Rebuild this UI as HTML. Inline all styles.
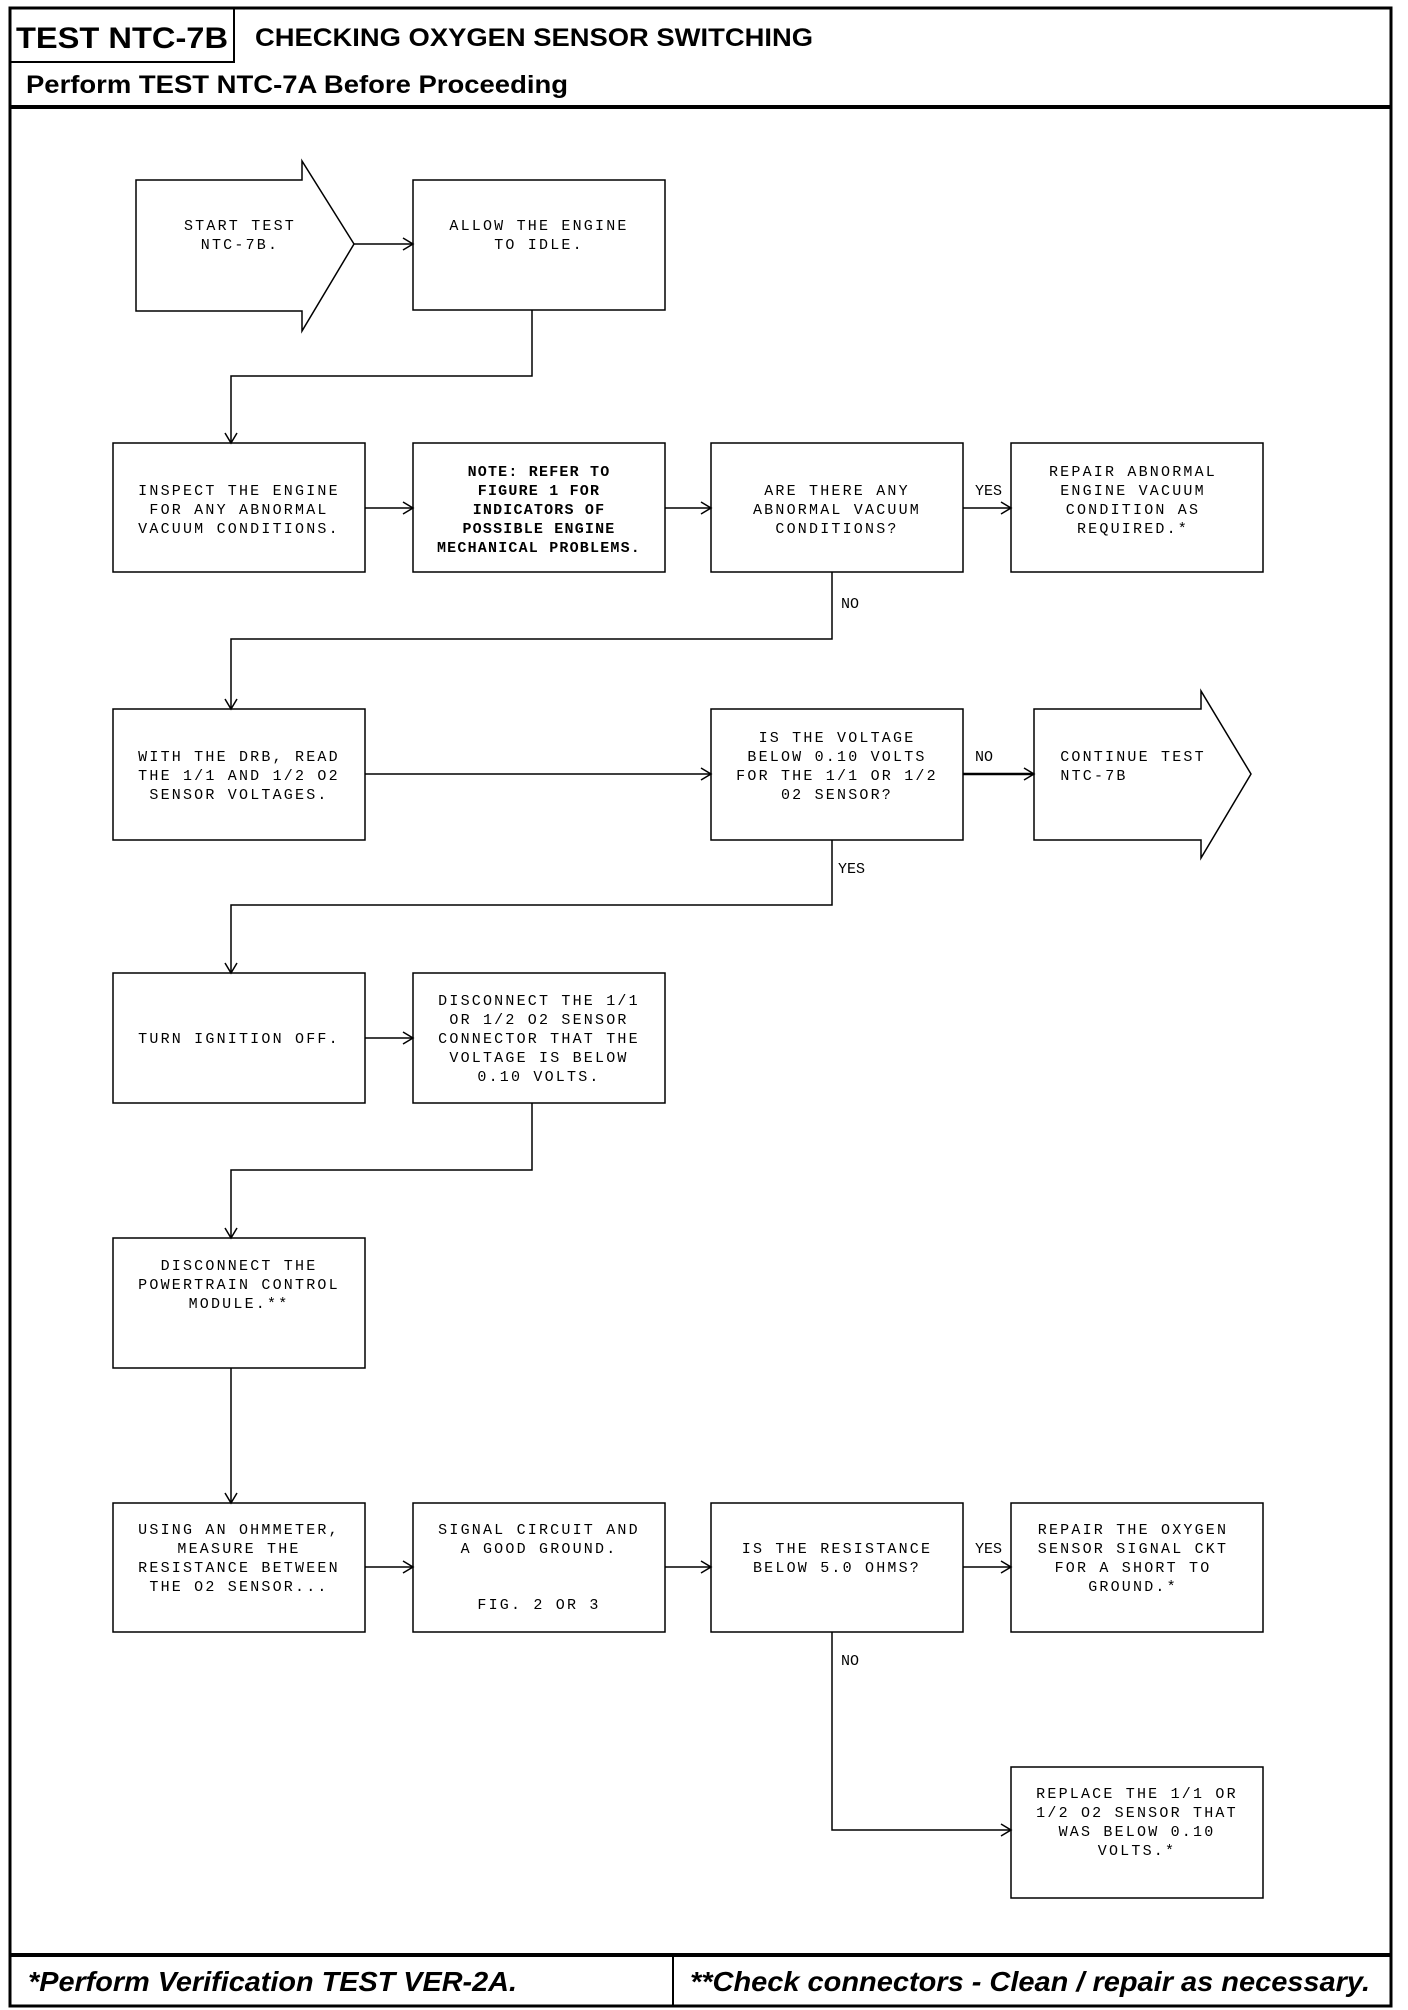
<!DOCTYPE html>
<html><head><meta charset="utf-8"><style>
html,body{margin:0;padding:0;background:#fff;}
svg{display:block;}
.t{font-family:"Liberation Mono",monospace;font-size:15px;letter-spacing:2.2px;fill:#000;text-anchor:middle;}
.b{font-weight:bold;}
.l{font-family:"Liberation Mono",monospace;font-size:15px;fill:#000;}
</style></head><body>
<svg width="1408" height="2010" viewBox="0 0 1408 2010" xmlns="http://www.w3.org/2000/svg">
<g fill="none" stroke="#000">
<!-- outer border -->
<rect x="10" y="8" width="1381" height="1998" stroke-width="3"/>
<rect x="10" y="8" width="224" height="54" stroke-width="2"/>
<line x1="10" y1="107" x2="1391" y2="107" stroke-width="4"/>
<line x1="10" y1="1955" x2="1391" y2="1955" stroke-width="4"/>
<line x1="673" y1="1955" x2="673" y2="2006" stroke-width="2"/>

<g stroke-width="1.5">
<!-- start arrow -->
<polygon points="136,180 302,180 302,161 354,244 302,331 302,311 136,311"/>
<rect x="413" y="180" width="252" height="130"/>
<!-- row2 -->
<rect x="113" y="443" width="252" height="129"/>
<rect x="413" y="443" width="252" height="129"/>
<rect x="711" y="443" width="252" height="129"/>
<rect x="1011" y="443" width="252" height="129"/>
<!-- row3 -->
<rect x="113" y="709" width="252" height="131"/>
<rect x="711" y="709" width="252" height="131"/>
<polygon points="1034,709 1201,709 1201,691 1251,774 1201,858 1201,840 1034,840"/>
<!-- row4 -->
<rect x="113" y="973" width="252" height="130"/>
<rect x="413" y="973" width="252" height="130"/>
<!-- row5 -->
<rect x="113" y="1238" width="252" height="130"/>
<!-- row6 -->
<rect x="113" y="1503" width="252" height="129"/>
<rect x="413" y="1503" width="252" height="129"/>
<rect x="711" y="1503" width="252" height="129"/>
<rect x="1011" y="1503" width="252" height="129"/>
<!-- row7 -->
<rect x="1011" y="1767" width="252" height="131"/>

<!-- connectors -->
<line x1="354" y1="244" x2="413" y2="244"/>
<polyline points="532,310 532,376 231,376 231,443"/>
<line x1="365" y1="508" x2="413" y2="508"/>
<line x1="665" y1="508" x2="711" y2="508"/>
<line x1="963" y1="508" x2="1011" y2="508"/>
<polyline points="832,572 832,639 231,639 231,709"/>
<line x1="365" y1="774" x2="711" y2="774"/>
<line x1="963" y1="774" x2="1034" y2="774" stroke-width="2.5"/>
<polyline points="832,840 832,905 231,905 231,973"/>
<line x1="365" y1="1038" x2="413" y2="1038"/>
<polyline points="532,1103 532,1170 231,1170 231,1238"/>
<line x1="231" y1="1368" x2="231" y2="1503"/>
<line x1="365" y1="1567" x2="413" y2="1567"/>
<line x1="665" y1="1567" x2="711" y2="1567"/>
<line x1="963" y1="1567" x2="1011" y2="1567"/>
<polyline points="832,1632 832,1830 1011,1830"/>

<!-- arrowheads -->
<polyline points="403,238 413,244 403,250"/>
<polyline points="225,433 231,443 237,433"/>
<polyline points="403,502 413,508 403,514"/>
<polyline points="701,502 711,508 701,514"/>
<polyline points="1001,502 1011,508 1001,514"/>
<polyline points="225,699 231,709 237,699"/>
<polyline points="701,768 711,774 701,780"/>
<polyline points="1024,768 1034,774 1024,780"/>
<polyline points="225,963 231,973 237,963"/>
<polyline points="403,1032 413,1038 403,1044"/>
<polyline points="225,1228 231,1238 237,1228"/>
<polyline points="225,1493 231,1503 237,1493"/>
<polyline points="403,1561 413,1567 403,1573"/>
<polyline points="701,1561 711,1567 701,1573"/>
<polyline points="1001,1561 1011,1567 1001,1573"/>
<polyline points="1001,1824 1011,1830 1001,1836"/>
</g>
</g>

<!-- header text -->
<text x="16" y="48" font-family="'Liberation Sans',sans-serif" font-weight="bold" font-size="30" textLength="212" lengthAdjust="spacingAndGlyphs">TEST NTC-7B</text>
<text x="255" y="46" font-family="'Liberation Sans',sans-serif" font-weight="bold" font-size="25" textLength="558" lengthAdjust="spacingAndGlyphs">CHECKING OXYGEN SENSOR SWITCHING</text>
<text x="26" y="93" font-family="'Liberation Sans',sans-serif" font-weight="bold" font-size="25" textLength="542" lengthAdjust="spacingAndGlyphs">Perform TEST NTC-7A Before Proceeding</text>

<!-- footer -->
<text x="28" y="1991" font-family="'Liberation Sans',sans-serif" font-weight="bold" font-style="italic" font-size="28" textLength="489" lengthAdjust="spacingAndGlyphs">*Perform Verification TEST VER-2A.</text>
<text x="690" y="1991" font-family="'Liberation Sans',sans-serif" font-weight="bold" font-style="italic" font-size="28" textLength="680" lengthAdjust="spacingAndGlyphs">**Check connectors - Clean / repair as necessary.</text>

<!-- box texts -->
<g class="t">
<text x="240" y="230">START TEST</text><text x="240" y="249">NTC-7B.</text>
<text x="539" y="230">ALLOW THE ENGINE</text><text x="539" y="249">TO IDLE.</text>

<text x="239" y="495">INSPECT THE ENGINE</text><text x="239" y="514">FOR ANY ABNORMAL</text><text x="239" y="533">VACUUM CONDITIONS.</text>
<g class="b" style="letter-spacing:1.2px">
<text x="539" y="476">NOTE: REFER TO</text><text x="539" y="495">FIGURE 1 FOR</text><text x="539" y="514">INDICATORS OF</text><text x="539" y="533">POSSIBLE ENGINE</text><text x="539" y="552">MECHANICAL PROBLEMS.</text>
</g>
<text x="837" y="495">ARE THERE ANY</text><text x="837" y="514">ABNORMAL VACUUM</text><text x="837" y="533">CONDITIONS?</text>
<text x="1133" y="476">REPAIR ABNORMAL</text><text x="1133" y="495">ENGINE VACUUM</text><text x="1133" y="514">CONDITION AS</text><text x="1133" y="533">REQUIRED.*</text>

<text x="239" y="761">WITH THE DRB, READ</text><text x="239" y="780">THE 1/1 AND 1/2 O2</text><text x="239" y="799">SENSOR VOLTAGES.</text>
<text x="837" y="742">IS THE VOLTAGE</text><text x="837" y="761">BELOW 0.10 VOLTS</text><text x="837" y="780">FOR THE 1/1 OR 1/2</text><text x="837" y="799">02 SENSOR?</text>
<text x="1133" y="761">CONTINUE TEST</text><text x="1094" y="780">NTC-7B</text>

<text x="239" y="1043">TURN IGNITION OFF.</text>
<text x="539" y="1005">DISCONNECT THE 1/1</text><text x="539" y="1024">OR 1/2 O2 SENSOR</text><text x="539" y="1043">CONNECTOR THAT THE</text><text x="539" y="1062">VOLTAGE IS BELOW</text><text x="539" y="1081">0.10 VOLTS.</text>

<text x="239" y="1270">DISCONNECT THE</text><text x="239" y="1289">POWERTRAIN CONTROL</text><text x="239" y="1308">MODULE.**</text>

<text x="239" y="1534">USING AN OHMMETER,</text><text x="239" y="1553">MEASURE THE</text><text x="239" y="1572">RESISTANCE BETWEEN</text><text x="239" y="1591">THE O2 SENSOR...</text>
<text x="539" y="1534">SIGNAL CIRCUIT AND</text><text x="539" y="1553">A GOOD GROUND.</text><text x="539" y="1609">FIG. 2 OR 3</text>
<text x="837" y="1553">IS THE RESISTANCE</text><text x="837" y="1572">BELOW 5.0 OHMS?</text>
<text x="1133" y="1534">REPAIR THE OXYGEN</text><text x="1133" y="1553">SENSOR SIGNAL CKT</text><text x="1133" y="1572">FOR A SHORT TO</text><text x="1133" y="1591">GROUND.*</text>

<text x="1137" y="1798">REPLACE THE 1/1 OR</text><text x="1137" y="1817">1/2 O2 SENSOR THAT</text><text x="1137" y="1836">WAS BELOW 0.10</text><text x="1137" y="1855">VOLTS.*</text>
</g>

<!-- connector labels -->
<g class="l">
<text x="975" y="495">YES</text>
<text x="841" y="608">NO</text>
<text x="975" y="761">NO</text>
<text x="838" y="873">YES</text>
<text x="975" y="1553">YES</text>
<text x="841" y="1665">NO</text>
</g>
</svg>
</body></html>
